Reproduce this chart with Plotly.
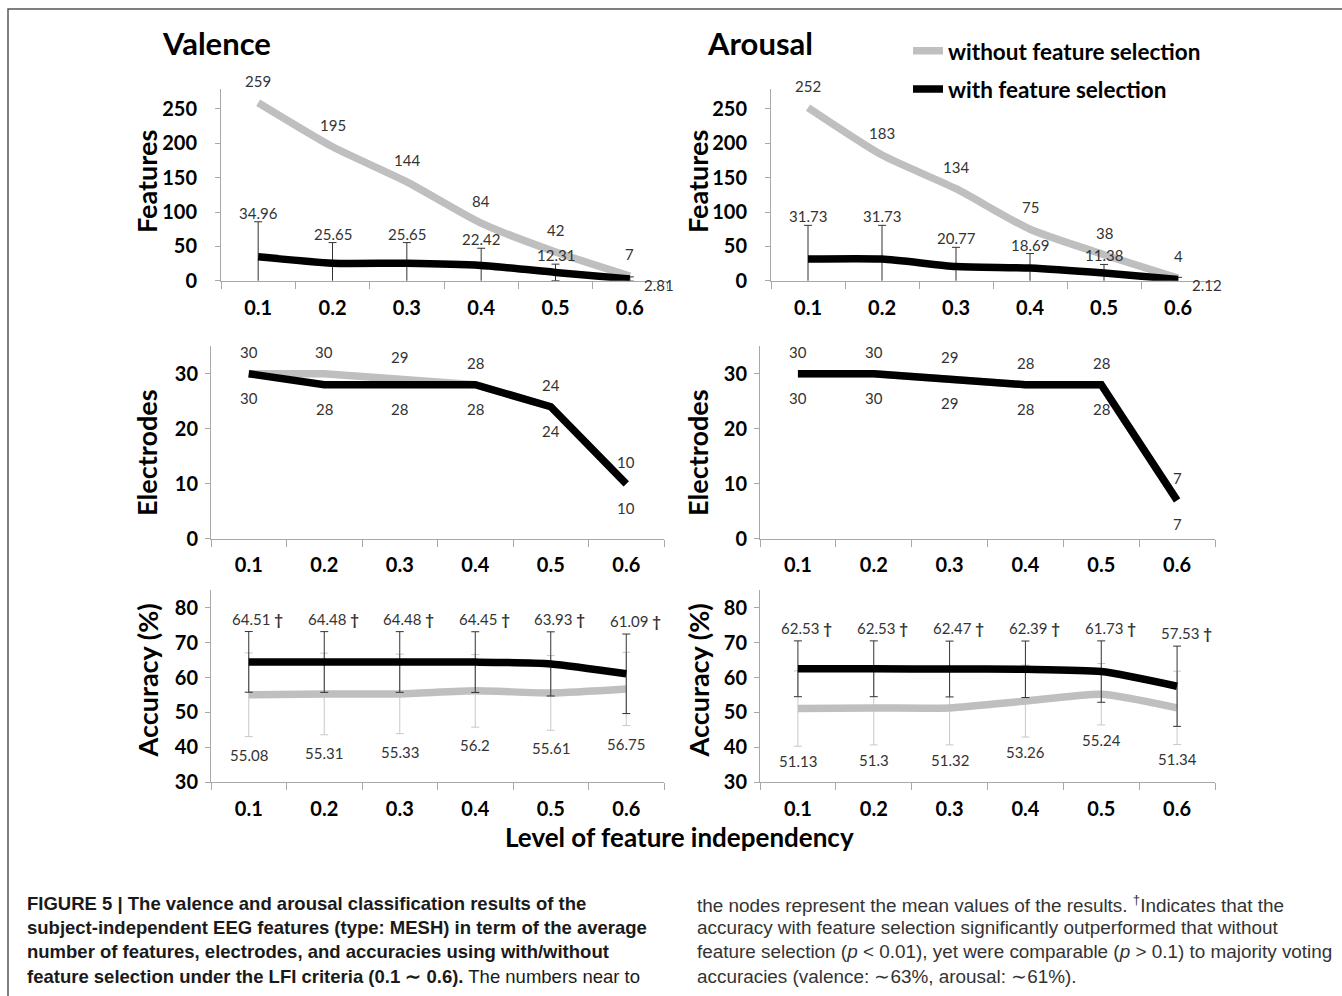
import plotly.graph_objects as go

# ---------------- data ----------------
levels = ["0.1", "0.2", "0.3", "0.4", "0.5", "0.6"]

val_feat_without = [259, 195, 144, 84, 42, 7]
val_feat_with = [34.96, 25.65, 25.65, 22.42, 12.31, 2.81]
val_feat_with_err = [51, 30, 30, 25, 12, 3]

aro_feat_without = [252, 183, 134, 75, 38, 4]
aro_feat_with = [31.73, 31.73, 20.77, 18.69, 11.38, 2.12]
aro_feat_with_err = [49, 49, 28, 21, 12.5, 3]

val_elec_without = [30, 30, 29, 28, 24, 10]
val_elec_with = [30, 28, 28, 28, 24, 10]

aro_elec_without = [30, 30, 29, 28, 28, 7]
aro_elec_with = [30, 30, 29, 28, 28, 7]

val_acc_without = [55.08, 55.31, 55.33, 56.2, 55.61, 56.75]
val_acc_without_err = [12.0, 11.7, 11.4, 10.4, 10.7, 10.5]
val_acc_with = [64.51, 64.48, 64.48, 64.45, 63.93, 61.09]
val_acc_with_err = [8.7, 8.7, 8.7, 8.7, 9.2, 11.4]

aro_acc_without = [51.13, 51.3, 51.32, 53.26, 55.24, 51.34]
aro_acc_without_err = [10.8, 10.6, 10.6, 10.3, 8.8, 10.5]
aro_acc_with = [62.53, 62.53, 62.47, 62.39, 61.73, 57.53]
aro_acc_with_err = [8.0, 8.0, 8.0, 8.1, 8.8, 11.5]

dagger = "†"

# ---------------- layout helpers ----------------
W, H = 1342, 996
def px(x):
    return x / W
def py(y):
    return 1 - y / H

GRAY = "#bfbfbf"
BLACK = "#000000"
AXIS = "#a8a8a8"
FONT = "Lato"
LABEL_COLOR = "#333333"

fig = go.Figure()

# panel pixel boxes: (x0, x1, ytop, ybottom)
panels = {
    1: (221, 667, 90, 284),
    2: (771, 1215, 90, 284),
    3: (211, 664, 350, 545),
    4: (760, 1215, 350, 545),
    5: (211, 664, 597, 791),
    6: (760, 1215, 597, 791),
}
yranges = {1: [0, 279], 2: [0, 279], 3: [0, 35], 4: [0, 35], 5: [30, 85], 6: [30, 85]}
ydticks = {1: 50, 2: 50, 3: 10, 4: 10, 5: 10, 6: 10}
ytick0 = {1: 0, 2: 0, 3: 0, 4: 0, 5: 30, 6: 30}
ystandoff = {1: 14, 2: 14, 3: 3, 4: 3, 5: 3, 6: 3}
xstandoff = {1: 9, 2: 9, 3: 8, 4: 8, 5: 9, 6: 9}

for i, (x0, x1, yt, yb) in panels.items():
    sfx = "" if i == 1 else str(i)
    fig.layout["xaxis" + sfx] = dict(
        domain=[px(x0), px(x1)], anchor="y" + sfx, type="category",
        categoryorder="array", categoryarray=levels, range=[-0.5, 5.5],
        showline=True, linecolor=AXIS, linewidth=1, ticks="outside",
        tickson="boundaries", ticklen=7, tickcolor=AXIS, showgrid=False,
        zeroline=False, ticklabelstandoff=xstandoff[i],
        tickfont=dict(family=FONT, size=20, color="black", weight="bold"),
        fixedrange=True,
    )
    fig.layout["yaxis" + sfx] = dict(
        domain=[py(yb), py(yt)], anchor="x" + sfx, range=yranges[i],
        tick0=ytick0[i], dtick=ydticks[i],
        showline=True, linecolor=AXIS, linewidth=1, ticks="outside",
        ticklen=5, tickcolor=AXIS, showgrid=False, zeroline=False,
        ticklabelstandoff=ystandoff[i],
        tickfont=dict(family=FONT, size=20, color="black", weight="bold"),
        fixedrange=True,
    )

def axes(i):
    sfx = "" if i == 1 else str(i)
    return "x" + sfx, "y" + sfx

def add_line(i, y, color, err=None, errcolor=None, shape="linear", name=None, legend=False):
    xa, ya = axes(i)
    kw = {}
    if err is not None:
        kw["error_y"] = dict(type="data", array=err, visible=True, color=errcolor,
                             thickness=1, width=4)
    fig.add_trace(go.Scatter(
        x=levels, y=y, mode="lines", xaxis=xa, yaxis=ya,
        line=dict(color=color, width=7.5, shape=shape, smoothing=0.6),
        name=name, legendgroup=name, showlegend=legend, hoverinfo="skip", **kw))

def add_labels(i, vals, yref_vals, yshift, xshift=0, suffix="", xanchor="center", skip_last=False):
    xa, ya = axes(i)
    n = len(vals) - (1 if skip_last else 0)
    for k in range(n):
        fig.add_annotation(
            x=k, y=yref_vals[k], xref=xa, yref=ya,
            text=f"{vals[k]}" + suffix, showarrow=False,
            xanchor=xanchor, yanchor="middle", xshift=xshift, yshift=yshift,
            font=dict(family=FONT, size=15, color=LABEL_COLOR))

# ---- Features panels ----
add_line(1, val_feat_without, GRAY, shape="spline", name="without feature selection", legend=True)
add_line(1, val_feat_with, BLACK, err=val_feat_with_err, errcolor="#333333", shape="spline",
         name="with feature selection", legend=True)
add_line(2, aro_feat_without, GRAY, shape="spline")
add_line(2, aro_feat_with, BLACK, err=aro_feat_with_err, errcolor="#333333", shape="spline")

for i, wo, w, we in [(1, val_feat_without, val_feat_with, val_feat_with_err),
                     (2, aro_feat_without, aro_feat_with, aro_feat_with_err)]:
    add_labels(i, wo, wo, 22)
    tops = [v + e for v, e in zip(w, we)]
    add_labels(i, w, tops, 9, skip_last=True)
    xa, ya = axes(i)
    fig.add_annotation(x=len(w) - 1, y=w[-1], xref=xa, yref=ya, text=f"{w[-1]}",
                       showarrow=False, xanchor="left", yanchor="middle",
                       xshift=12, yshift=-6,
                       font=dict(family=FONT, size=15, color=LABEL_COLOR))

# ---- Electrodes panels ----
add_line(3, val_elec_without, GRAY)
add_line(3, val_elec_with, BLACK)
add_line(4, aro_elec_without, GRAY)
add_line(4, aro_elec_with, BLACK)
for i, wo, w in [(3, val_elec_without, val_elec_with), (4, aro_elec_without, aro_elec_with)]:
    add_labels(i, wo, wo, 22)
    add_labels(i, w, w, -24)

# ---- Accuracy panels ----
add_line(5, val_acc_without, GRAY, err=val_acc_without_err, errcolor="#c8c8c8", shape="spline")
add_line(5, val_acc_with, BLACK, err=val_acc_with_err, errcolor="#333333", shape="spline")
add_line(6, aro_acc_without, GRAY, err=aro_acc_without_err, errcolor="#c8c8c8", shape="spline")
add_line(6, aro_acc_with, BLACK, err=aro_acc_with_err, errcolor="#333333", shape="spline")
for i, wo, woe, w, we, gshift in [
        (5, val_acc_without, val_acc_without_err, val_acc_with, val_acc_with_err, -18),
        (6, aro_acc_without, aro_acc_without_err, aro_acc_with, aro_acc_with_err, -15)]:
    tops = [v + e for v, e in zip(w, we)]
    add_labels(i, w, tops, 13, xshift=9, suffix=f" <b>{dagger}</b>")
    bots = [v - e for v, e in zip(wo, woe)]
    add_labels(i, wo, bots, gshift)

# ---- titles & axis titles ----
def text_ann(x, y, text, size, bold=True, angle=0, xanchor="center", family=FONT, color="black"):
    fig.add_annotation(x=px(x), y=py(y), xref="paper", yref="paper", text=text,
                       showarrow=False, textangle=angle, xanchor=xanchor, yanchor="middle",
                       font=dict(family=family, size=size, color=color,
                                 weight="bold" if bold else "normal"))

text_ann(216, 43, "Valence", 31)
text_ann(760, 43, "Arousal", 31)
for xx in (147, 698):
    text_ann(xx, 184, "Features", 27, angle=-90)
    text_ann(xx, 458, "Electrodes", 27, angle=-90)
    text_ann(xx, 688, "Accuracy (%)", 27, angle=-90)
text_ann(679, 846, "Level of feature independency", 26)

# ---- caption ----
CAP = "Liberation Sans Narrow, Liberation Sans, Arial Narrow, sans-serif"
left_lines = [
    "<b>FIGURE 5 | The valence and arousal classification results of the</b>",
    "<b>subject-independent EEG features (type: MESH) in term of the average</b>",
    "<b>number of features, electrodes, and accuracies using with/without</b>",
    "<b>feature selection under the LFI criteria (0.1 ∼ 0.6).</b> The numbers near to",
]
right_lines = [
    "the nodes represent the mean values of the results. <sup>†</sup>Indicates that the",
    "accuracy with feature selection significantly outperformed that without",
    "feature selection (<i>p</i> &lt; 0.01), yet were comparable (<i>p</i> &gt; 0.1) to majority voting",
    "accuracies (valence: ∼63%, arousal: ∼61%).",
]
for k, t in enumerate(left_lines):
    fig.add_annotation(x=px(25), y=py(914 + 24.3 * k), xref="paper", yref="paper", text=t,
                       showarrow=False, xanchor="left", yanchor="middle",
                       font=dict(family=CAP, size=18.5, color="#1a1a1a"))
for k, t in enumerate(right_lines):
    fig.add_annotation(x=px(695), y=py(914 + 24.3 * k), xref="paper", yref="paper", text=t,
                       showarrow=False, xanchor="left", yanchor="middle",
                       font=dict(family=CAP, size=18.9, color="#333333"))

# border
fig.add_shape(type="rect", xref="paper", yref="paper", x0=px(8), y0=-0.05, x1=1.05, y1=py(9),
              line=dict(color="#555555", width=1.5), fillcolor="rgba(0,0,0,0)", layer="below")

fig.update_layout(
    width=W, height=H, autosize=False,
    margin=dict(l=0, r=0, t=0, b=0),
    paper_bgcolor="white", plot_bgcolor="white",
    showlegend=True,
    legend=dict(x=px(908), y=py(30), xanchor="left", yanchor="top",
                font=dict(family=FONT, size=22.5, color="black", weight="bold"),
                bgcolor="rgba(0,0,0,0)", itemwidth=30, tracegroupgap=6),
)

fig.write_html("out.html")
